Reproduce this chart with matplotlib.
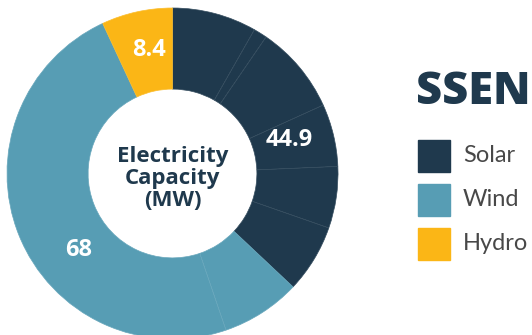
import matplotlib
matplotlib.use("Agg")
import matplotlib.pyplot as plt
from matplotlib.patches import Rectangle
from matplotlib.colors import to_rgb

# capacity by technology (MW)
categories = ["Solar", "Wind", "Hydro"]
totals = [44.9, 68, 8.4]
# individual sites making up each technology (faint dividers in the ring)
solar_sites = [10.0, 1.6, 10.5, 7.4, 7.3, 8.1]
wind_sites = [9.4, 58.6]
hydro_sites = [8.4]
colors = ["#1f394d", "#579db4", "#fbb616"]

plt.rcParams['font.family'] = ['Lato', 'DejaVu Sans']
BOLD = ['Open Sans', 'DejaVu Sans']

fig = plt.figure(figsize=(5.32, 3.35), dpi=100)
ax = fig.add_axes([7 / 532, -4 / 335, 331 / 532, 331 / 335])

sizes = solar_sites + wind_sites + hydro_sites
wcols = ([colors[0]] * len(solar_sites) + [colors[1]] * len(wind_sites)
         + [colors[2]] * len(hydro_sites))
wedges, _ = ax.pie(sizes, colors=wcols, startangle=90, counterclock=False,
                   radius=1, wedgeprops=dict(width=0.49, linewidth=0.5))
for w, c in zip(wedges, wcols):
    r, g, b = to_rgb(c)
    w.set_edgecolor((r + (1 - r) * 0.1, g + (1 - g) * 0.1, b + (1 - b) * 0.1))
ax.set_xlim(-1, 1)
ax.set_ylim(-1, 1)
ax.axis("off")

# value labels
label_pos = [(0.704, 0.205), (-0.565, -0.462), (-0.142, 0.746)]
for val, (x, y) in zip(totals, label_pos):
    ax.text(x, y, f"{val:g}", color="white", fontsize=17, fontweight="bold",
            family=BOLD, ha="center", va="center")

ax.text(0.0, -0.03, "Electricity\nCapacity\n(MW)", color=colors[0], fontsize=16,
        fontweight="bold", family=BOLD, ha="center", va="center", linespacing=1.05)

# legend area in pixel coordinates
lg = fig.add_axes([0, 0, 1, 1])
lg.set_xlim(0, 532)
lg.set_ylim(335, 0)
lg.axis("off")
lg.text(416, 93, "SSEN", color=colors[0], fontsize=32.5, fontweight="heavy",
        family=BOLD, ha="left", va="center")
for i, (name, c) in enumerate(zip(categories, colors)):
    y0 = 140 + i * 44
    lg.add_patch(Rectangle((418, y0), 32, 32, color=c))
    lg.text(463, y0 + 16, name, color="#484848", fontsize=17, ha="left", va="center")

fig.savefig("out.png", dpi=100)
